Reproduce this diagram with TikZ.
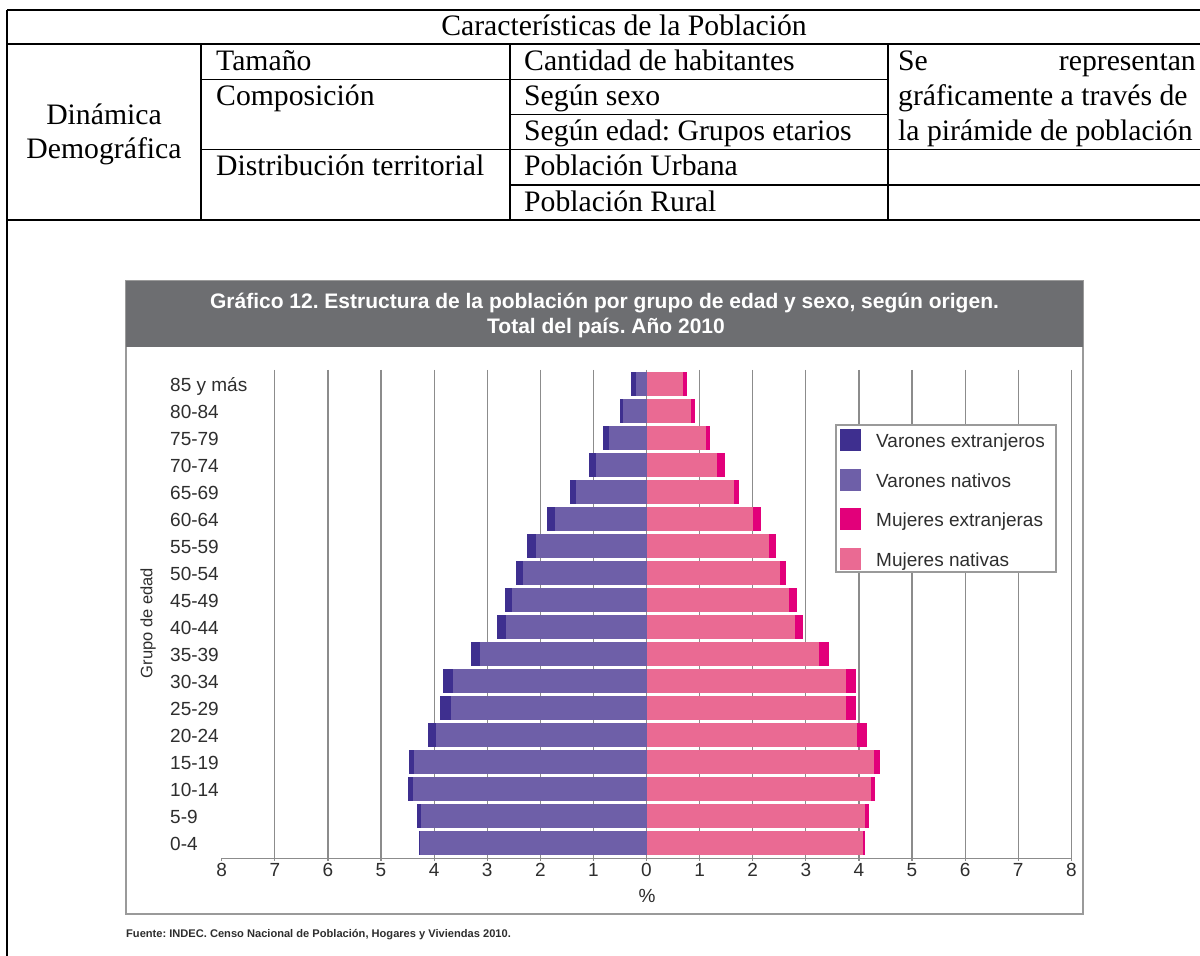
\documentclass[tikz,border=0pt]{standalone}
\usepackage{fontspec}
\setmainfont{Liberation Serif}
\newfontfamily\chartfont{Liberation Sans}
\frenchspacing
\definecolor{vext}{HTML}{3E2F8F}
\definecolor{vnat}{HTML}{6E5FA8}
\definecolor{mext}{HTML}{E2007A}
\definecolor{mnat}{HTML}{EA6A93}
\definecolor{titlegray}{HTML}{6D6E71}
\definecolor{gridc}{HTML}{8C8C8C}
\definecolor{framec}{HTML}{9A9A9A}
\definecolor{labc}{HTML}{2E2E2E}
\begin{document}
\begin{tikzpicture}[x=1pt,y=-1pt,
  tline/.style={line width=1.4pt,black},
  tcell/.style={anchor=base west,inner sep=0pt,font=\frenchspacing\fontsize{29.7}{34}\selectfont},
  gridline/.style={gridc,line width=1.2pt},
  agelab/.style={anchor=base west,inner sep=0pt,text=labc,font=\chartfont\fontsize{19}{22}\selectfont},
  ticklab/.style={anchor=base,inner sep=0pt,text=labc,font=\chartfont\fontsize{19}{22}\selectfont},
  leglab/.style={anchor=base west,inner sep=0pt,text=labc,font=\chartfont\fontsize{19}{22}\selectfont},
  swatch/.style={minimum width=21pt,minimum height=22pt,inner sep=0pt}]
\useasboundingbox (0,0) rectangle (1200,956);
\fill[white] (0,0) rectangle (1200,956);
% ---------------- table ----------------
\draw[tline] (7,10) -- (1200,10);
\draw[tline] (7,44) -- (1200,44);
\draw[tline] (201,79.2) -- (888,79.2);
\draw[tline] (510,114.5) -- (888,114.5);
\draw[tline] (201,149.7) -- (1200,149.7);
\draw[tline] (510,185) -- (1200,185);
\draw[tline] (7,220) -- (1200,220);
\draw[tline] (7,10) -- (7,956);
\draw[tline] (201,44) -- (201,220);
\draw[tline] (510,44) -- (510,220);
\draw[tline] (888,44) -- (888,220);
\node[tcell,anchor=base] (hdr) at (624,35) {Características de la Población};
\node[tcell,anchor=base] (din1) at (104,124) {Dinámica};
\node[tcell,anchor=base] (din2) at (104,158) {Demográfica};
\node[tcell] (tam) at (216,70) {Tamaño};
\node[tcell] (comp) at (216,105) {Composición};
\node[tcell] (dist) at (216,175.5) {Distribución territorial};
\node[tcell] (cant) at (524,70) {Cantidad de habitantes};
\node[tcell] (sexo) at (524,105) {Según sexo};
\node[tcell] (edad) at (524,140.5) {Según edad: Grupos etarios};
\node[tcell] (urb) at (524,175.5) {Población Urbana};
\node[tcell] (rur) at (524,211) {Población Rural};
\node[tcell] (se) at (898,70) {Se};
\node[tcell,anchor=base east] (repr) at (1196,70) {representan};
\node[tcell] (graf) at (898,105) {gráficamente a través de};
\node[tcell] (pir) at (898,140.5) {la pirámide de población};
% ---------------- chart ----------------
\draw[framec,line width=1.4pt] (126,281) rectangle (1083,914);
\fill[titlegray] (126,281) rectangle (1083,347);
\node[text=white,font=\chartfont\bfseries\frenchspacing\fontsize{21}{24}\selectfont,anchor=base,inner sep=0pt] (t1) at (604.5,308)
  {Gráfico 12. Estructura de la población por grupo de edad y sexo, según origen.};
\node[text=white,font=\chartfont\bfseries\frenchspacing\fontsize{21}{24}\selectfont,anchor=base,inner sep=0pt] (t2) at (606,333)
  {Total del país. Año 2010};
\begin{scope}[shift={(646.5,384)},x=53.1pt,y=-27pt]
  \foreach \k in {-7,...,8} \draw[gridline] (\k,-0.52) -- (\k,17.56);
  \foreach \mt/\mn/\fn/\ft [count=\i from 0] in {
    0.29/0.20/0.68/0.76, 0.49/0.44/0.84/0.92, 0.81/0.71/1.12/1.20,
    1.08/0.96/1.33/1.48, 1.45/1.32/1.64/1.75, 1.88/1.73/2.00/2.16,
    2.25/2.08/2.31/2.43, 2.45/2.32/2.52/2.63, 2.66/2.53/2.68/2.83,
    2.81/2.65/2.80/2.95, 3.30/3.13/3.24/3.43, 3.84/3.64/3.76/3.95,
    3.88/3.68/3.76/3.95, 4.12/3.97/3.96/4.15, 4.48/4.37/4.28/4.39,
    4.50/4.40/4.23/4.31, 4.33/4.25/4.12/4.19, 4.28/4.26/4.08/4.11} {
    \fill[vext] (-\mt,\i-0.46) rectangle (0,\i+0.46);
    \fill[vnat] (-\mn,\i-0.46) rectangle (0,\i+0.46);
    \fill[mext] (0,\i-0.46) rectangle (\ft,\i+0.46);
    \fill[mnat] (0,\i-0.46) rectangle (\fn,\i+0.46);
  }
  \draw[gridline] (-8,17.56) -- (8,17.56);
  \foreach \k in {-8,...,8} {
    \draw[gridline] (\k,17.56) -- ([yshift=-3pt]\k,17.56);
    \pgfmathtruncatemacro\lab{abs(\k)}
    \node[ticklab] at ([yshift=-18pt]\k,17.56) {\lab};
  }
\end{scope}
\foreach \lab [count=\i from 0] in {85 y más,80-84,75-79,70-74,65-69,60-64,55-59,50-54,45-49,40-44,35-39,30-34,25-29,20-24,15-19,10-14,5-9,0-4}
  \node[agelab] at (170,391+27*\i) {\lab};
\node[rotate=90,text=labc,font=\chartfont\fontsize{16.5}{20}\selectfont,inner sep=0pt] (ylab) at (148,623) {Grupo de edad};
\node[ticklab] (pct) at (647,902) {\%};
% legend
\draw[framec,line width=1.3pt,fill=white] (836,425) rectangle (1056,572);
\node[swatch,fill=vext] (s1) at (850.5,440) {};
\node[swatch,fill=vnat] (s2) at (850.5,480) {};
\node[swatch,fill=mext] (s3) at (850.5,519) {};
\node[swatch,fill=mnat] (s4) at (850.5,559) {};
\node[leglab] (l1) at (876,447) {Varones extranjeros};
\node[leglab] (l2) at (876,487) {Varones nativos};
\node[leglab] (l3) at (876,526) {Mujeres extranjeras};
\node[leglab] (l4) at (876,566) {Mujeres nativas};
\node[anchor=base west,inner sep=0pt,text=labc,font=\chartfont\bfseries\fontsize{11.1}{13}\selectfont] (src) at (126,937)
  {Fuente: INDEC. Censo Nacional de Población, Hogares y Viviendas 2010.};
\end{tikzpicture}
\end{document}
